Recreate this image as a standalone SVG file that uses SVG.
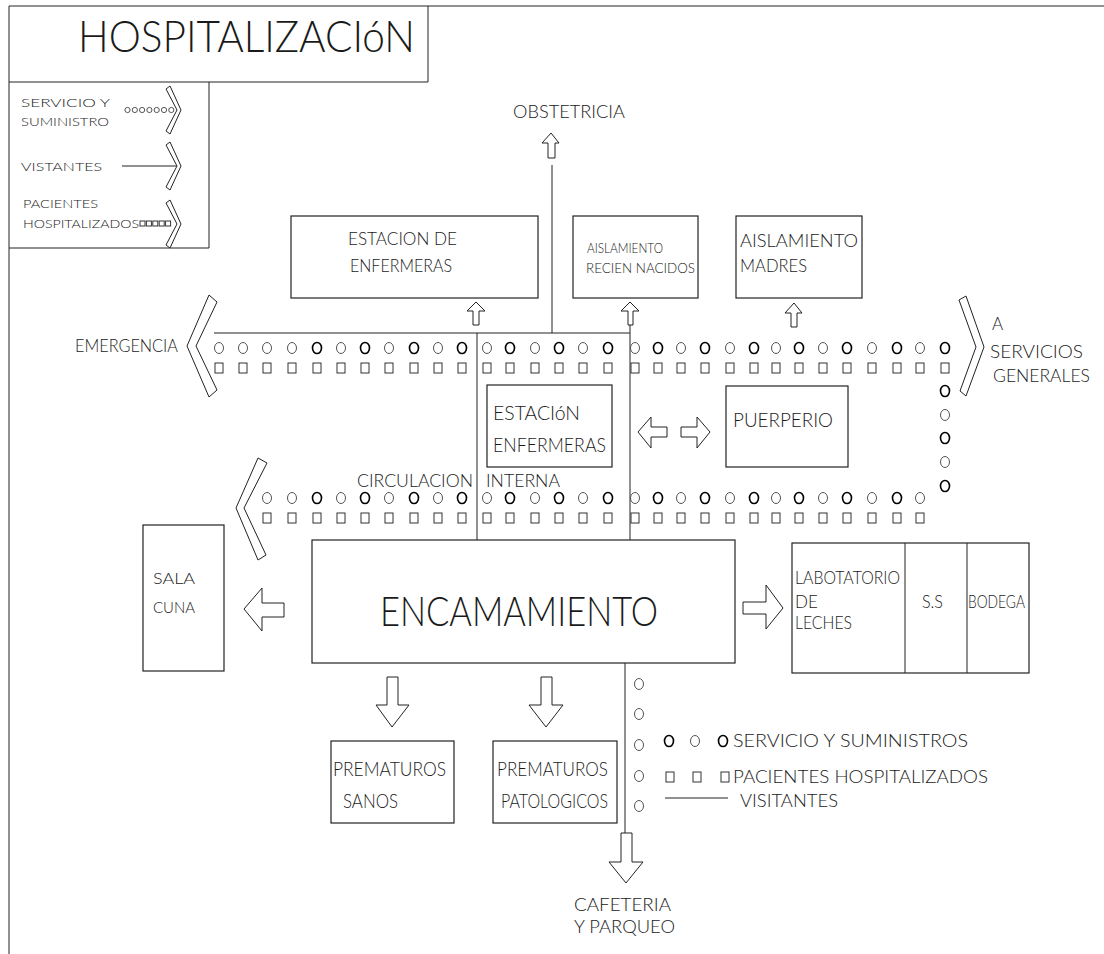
<svg xmlns="http://www.w3.org/2000/svg" xmlns:xlink="http://www.w3.org/1999/xlink" width="1104" height="954" viewBox="0 0 1104 954">
  <style>
    .ln{stroke:#222;stroke-width:1;fill:none}
    .bx{stroke:#222;stroke-width:1.2;fill:none}
    .ar{stroke:#222;stroke-width:1;fill:#fff}
    .t{font-family:"Lato","Liberation Sans",Arial,sans-serif;font-weight:300;fill:#1a1a1a}
    .c1{stroke:#555;stroke-width:1;fill:none}
    .c2{stroke:#000;stroke-width:1.6;fill:none}
    .sq{stroke:#333;stroke-width:1;fill:none}
  </style>
  <defs>
    <ellipse id="c" cx="0" cy="0" rx="4.5" ry="5.5"/>
    <rect id="s" x="-4" y="-5" width="8" height="10"/>
  </defs>
  <rect width="1104" height="954" fill="#fff"/>

  <!-- sheet frame, title block and legend block -->
  <g id="frame" class="ln">
    <line x1="9" y1="6" x2="1104" y2="6"/>
    <line x1="9" y1="6" x2="9" y2="954"/>
    <line x1="428" y1="6" x2="428" y2="82"/>
    <line x1="9" y1="82" x2="428" y2="82"/>
    <line x1="209" y1="82" x2="209" y2="248"/>
    <line x1="9" y1="248" x2="209" y2="248"/>
  </g>
  <g id="title">
    <text class="t" x="78" y="52" font-size="43" textLength="337" lengthAdjust="spacingAndGlyphs">HOSPITALIZACIóN</text>
  </g>

  <!-- legend: service, visitors, patients -->
  <g id="legend-top">
    <text class="t" x="21" y="107" font-size="12.5" textLength="89" lengthAdjust="spacingAndGlyphs">SERVICIO Y</text>
    <text class="t" x="21" y="126" font-size="12.5" textLength="88" lengthAdjust="spacingAndGlyphs">SUMINISTRO</text>
    <g class="c1">
      <circle cx="127.5" cy="110" r="2.6"/><circle cx="134.8" cy="110" r="2.6"/><circle cx="142.1" cy="110" r="2.6"/>
      <circle cx="149.4" cy="110" r="2.6"/><circle cx="156.7" cy="110" r="2.6"/><circle cx="164" cy="110" r="2.6"/>
      <circle cx="171.3" cy="110" r="2.6"/>
    </g>
    <polygon class="ar" points="166,89 170,86 181,110 170,134 166,131 177,110"/>
    <text class="t" x="21" y="171" font-size="12.5" textLength="81" lengthAdjust="spacingAndGlyphs">VISTANTES</text>
    <line class="ln" x1="122" y1="166" x2="178" y2="166"/>
    <polygon class="ar" points="166,145 170,142 181,166 170,190 166,187 177,166"/>
    <text class="t" x="23" y="208" font-size="12.5" textLength="75" lengthAdjust="spacingAndGlyphs">PACIENTES</text>
    <text class="t" x="23" y="228" font-size="12.5" textLength="116" lengthAdjust="spacingAndGlyphs">HOSPITALIZADOS</text>
    <g class="sq">
      <rect x="140" y="221" width="5" height="5"/><rect x="146.4" y="221" width="5" height="5"/><rect x="152.8" y="221" width="5" height="5"/>
      <rect x="159.2" y="221" width="5" height="5"/><rect x="165.6" y="221" width="5" height="5"/>
    </g>
    <polygon class="ar" points="166,203 170,200 181,224 170,248 166,245 177,224"/>
  </g>

  <!-- connectors: visitor lines and flow chevrons -->
  <g id="connectors">
    <line class="ln" x1="552" y1="165" x2="552" y2="333"/>
    <line class="ln" x1="214" y1="333" x2="630" y2="333"/>
    <line class="ln" x1="477" y1="333" x2="477" y2="540"/>
    <line class="ln" x1="630" y1="325" x2="630" y2="540"/>
    <line class="ln" x1="625" y1="663" x2="625" y2="833"/>
    <polygon class="ar" points="217,302 209,295 187,346 209,397 217,390 196,346"/>
    <polygon class="ar" points="959,300 966,296 984,347 966,396 960,391 976,347"/>
    <polygon class="ar" points="267,463 258,458 236,508 258,560 266,555 244,508"/>

    <!-- block arrows -->
    <polygon class="ar" points="551,133 559,143 555,143 555,158 548,158 548,143 542,143"/>
    <polygon class="ar" points="476,302 485,311 479,311 479,325 473,325 473,311 467,311"/>
    <polygon class="ar" points="630,302 639,311 633,311 633,325 628,325 628,311 621,311"/>
    <polygon class="ar" points="794,303 802,313 797,313 797,327 791,327 791,313 785,313"/>
    <polygon class="ar" points="638,432 651,417 651,427 667,427 667,437 651,437 651,448"/>
    <polygon class="ar" points="710,432 697,417 697,427 681,427 681,437 697,437 697,448"/>
    <polygon class="ar" points="244,609 262,588 262,603 284,603 284,617 262,617 262,631"/>
    <polygon class="ar" points="783,608 766,585 766,602 743,602 743,614 766,614 766,629"/>
    <polygon class="ar" points="392,727 409,705 398,705 398,677 387,677 387,705 376,705"/>
    <polygon class="ar" points="546,727 563,705 552,705 552,677 541,677 541,705 529,705"/>
    <polygon class="ar" points="626,883 643,862 632,862 632,833 621,833 621,862 609,862"/>
  </g>

  <!-- service (circles) and patient (squares) routes -->
  <g id="routes">
    <g class="c1">
      <use href="#c" x="219" y="348"/><use href="#c" x="243" y="348"/><use href="#c" x="267" y="348"/><use href="#c" x="292" y="348"/>
      <use href="#c" x="341" y="348"/><use href="#c" x="389" y="348"/><use href="#c" x="438" y="348"/><use href="#c" x="487" y="348"/>
      <use href="#c" x="535" y="348"/><use href="#c" x="583" y="348"/><use href="#c" x="635" y="348"/><use href="#c" x="681" y="348"/>
      <use href="#c" x="730" y="348"/><use href="#c" x="776" y="348"/><use href="#c" x="823" y="348"/><use href="#c" x="872" y="348"/>
      <use href="#c" x="920" y="348"/>
      <use href="#c" x="267" y="498"/><use href="#c" x="292" y="498"/>
      <use href="#c" x="341" y="498"/><use href="#c" x="389" y="498"/><use href="#c" x="438" y="498"/><use href="#c" x="487" y="498"/>
      <use href="#c" x="535" y="498"/><use href="#c" x="583" y="498"/><use href="#c" x="635" y="498"/><use href="#c" x="681" y="498"/>
      <use href="#c" x="730" y="498"/><use href="#c" x="776" y="498"/><use href="#c" x="823" y="498"/><use href="#c" x="872" y="498"/>
      <use href="#c" x="920" y="498"/>
      <use href="#c" x="945" y="415"/><use href="#c" x="945" y="462"/>
      <use href="#c" x="639" y="684"/><use href="#c" x="639" y="714"/><use href="#c" x="639" y="745"/><use href="#c" x="639" y="776"/><use href="#c" x="639" y="806"/>
    </g>
    <g class="c2">
      <use href="#c" x="317" y="348"/><use href="#c" x="365" y="348"/><use href="#c" x="414" y="348"/><use href="#c" x="462" y="348"/>
      <use href="#c" x="510" y="348"/><use href="#c" x="559" y="348"/><use href="#c" x="608" y="348"/><use href="#c" x="658" y="348"/>
      <use href="#c" x="705" y="348"/><use href="#c" x="754" y="348"/><use href="#c" x="799" y="348"/><use href="#c" x="847" y="348"/>
      <use href="#c" x="897" y="348"/><use href="#c" x="945" y="348"/>
      <use href="#c" x="317" y="498"/><use href="#c" x="365" y="498"/><use href="#c" x="414" y="498"/><use href="#c" x="462" y="498"/>
      <use href="#c" x="510" y="498"/><use href="#c" x="559" y="498"/><use href="#c" x="608" y="498"/><use href="#c" x="658" y="498"/>
      <use href="#c" x="705" y="498"/><use href="#c" x="754" y="498"/><use href="#c" x="799" y="498"/><use href="#c" x="847" y="498"/>
      <use href="#c" x="897" y="498"/>
      <use href="#c" x="945" y="391"/><use href="#c" x="945" y="438"/><use href="#c" x="945" y="486"/>
    </g>
    <g class="sq">
      <use href="#s" x="219" y="368"/><use href="#s" x="243" y="368"/><use href="#s" x="267" y="368"/><use href="#s" x="292" y="368"/>
      <use href="#s" x="317" y="368"/><use href="#s" x="341" y="368"/><use href="#s" x="365" y="368"/><use href="#s" x="389" y="368"/>
      <use href="#s" x="414" y="368"/><use href="#s" x="438" y="368"/><use href="#s" x="462" y="368"/><use href="#s" x="487" y="368"/>
      <use href="#s" x="510" y="368"/><use href="#s" x="535" y="368"/><use href="#s" x="559" y="368"/><use href="#s" x="583" y="368"/>
      <use href="#s" x="608" y="368"/><use href="#s" x="635" y="368"/><use href="#s" x="658" y="368"/><use href="#s" x="681" y="368"/>
      <use href="#s" x="705" y="368"/><use href="#s" x="730" y="368"/><use href="#s" x="754" y="368"/><use href="#s" x="776" y="368"/>
      <use href="#s" x="799" y="368"/><use href="#s" x="823" y="368"/><use href="#s" x="847" y="368"/><use href="#s" x="872" y="368"/>
      <use href="#s" x="897" y="368"/><use href="#s" x="920" y="368"/><use href="#s" x="945" y="368"/>
      <use href="#s" x="267" y="518"/><use href="#s" x="292" y="518"/>
      <use href="#s" x="317" y="518"/><use href="#s" x="341" y="518"/><use href="#s" x="365" y="518"/><use href="#s" x="389" y="518"/>
      <use href="#s" x="414" y="518"/><use href="#s" x="438" y="518"/><use href="#s" x="462" y="518"/><use href="#s" x="487" y="518"/>
      <use href="#s" x="510" y="518"/><use href="#s" x="535" y="518"/><use href="#s" x="559" y="518"/><use href="#s" x="583" y="518"/>
      <use href="#s" x="608" y="518"/><use href="#s" x="635" y="518"/><use href="#s" x="658" y="518"/><use href="#s" x="681" y="518"/>
      <use href="#s" x="705" y="518"/><use href="#s" x="730" y="518"/><use href="#s" x="754" y="518"/><use href="#s" x="776" y="518"/>
      <use href="#s" x="799" y="518"/><use href="#s" x="823" y="518"/><use href="#s" x="847" y="518"/><use href="#s" x="872" y="518"/>
      <use href="#s" x="897" y="518"/><use href="#s" x="920" y="518"/>
    </g>
  </g>

  <!-- destination labels -->
  <g id="obstetricia"><text class="t" x="513" y="118" font-size="18" textLength="112" lengthAdjust="spacingAndGlyphs">OBSTETRICIA</text></g>
  <g id="emergencia"><text class="t" x="75" y="352" font-size="17" textLength="103" lengthAdjust="spacingAndGlyphs">EMERGENCIA</text></g>
  <g id="servicios-generales">
    <text class="t" x="992" y="330" font-size="17">A</text>
    <text class="t" x="990" y="358" font-size="17" textLength="93" lengthAdjust="spacingAndGlyphs">SERVICIOS</text>
    <text class="t" x="993" y="382" font-size="17" textLength="97" lengthAdjust="spacingAndGlyphs">GENERALES</text>
  </g>
  <g id="circulacion">
    <text class="t" x="357" y="487" font-size="18" textLength="116" lengthAdjust="spacingAndGlyphs">CIRCULACION</text>
    <text class="t" x="486" y="487" font-size="18" textLength="74" lengthAdjust="spacingAndGlyphs">INTERNA</text>
  </g>
  <g id="cafeteria">
    <text class="t" x="574" y="911" font-size="18" textLength="97" lengthAdjust="spacingAndGlyphs">CAFETERIA</text>
    <text class="t" x="574" y="933" font-size="18" textLength="101" lengthAdjust="spacingAndGlyphs">Y PARQUEO</text>
  </g>

  <!-- rooms -->
  <g id="estacion-de-enfermeras">
    <rect class="bx" x="291" y="216" width="247" height="82"/>
    <text class="t" x="348" y="245" font-size="17" textLength="109" lengthAdjust="spacingAndGlyphs">ESTACION DE</text>
    <text class="t" x="350" y="272" font-size="17" textLength="102" lengthAdjust="spacingAndGlyphs">ENFERMERAS</text>
  </g>
  <g id="aislamiento-recien-nacidos">
    <rect class="bx" x="573" y="216" width="125" height="82"/>
    <text class="t" x="587" y="253" font-size="13" textLength="76" lengthAdjust="spacingAndGlyphs">AISLAMIENTO</text>
    <text class="t" x="586" y="273" font-size="13" textLength="109" lengthAdjust="spacingAndGlyphs">RECIEN NACIDOS</text>
  </g>
  <g id="aislamiento-madres">
    <rect class="bx" x="736" y="216" width="126" height="82"/>
    <text class="t" x="740" y="247" font-size="17" textLength="118" lengthAdjust="spacingAndGlyphs">AISLAMIENTO</text>
    <text class="t" x="740" y="272" font-size="17" textLength="67" lengthAdjust="spacingAndGlyphs">MADRES</text>
  </g>
  <g id="estacion-enfermeras">
    <rect class="bx" x="487" y="385" width="125" height="82"/>
    <text class="t" x="493" y="420" font-size="20" textLength="87" lengthAdjust="spacingAndGlyphs">ESTACIóN</text>
    <text class="t" x="493" y="452" font-size="20" textLength="113" lengthAdjust="spacingAndGlyphs">ENFERMERAS</text>
  </g>
  <g id="puerperio">
    <rect class="bx" x="726" y="386" width="122" height="81"/>
    <text class="t" x="733" y="427" font-size="19" textLength="100" lengthAdjust="spacingAndGlyphs">PUERPERIO</text>
  </g>
  <g id="sala-cuna">
    <rect class="bx" x="143" y="525" width="81" height="146"/>
    <text class="t" x="153" y="584" font-size="16" textLength="42" lengthAdjust="spacingAndGlyphs">SALA</text>
    <text class="t" x="153" y="613" font-size="16" textLength="42" lengthAdjust="spacingAndGlyphs">CUNA</text>
  </g>
  <g id="encamamiento">
    <rect class="bx" x="312" y="540" width="423" height="123"/>
    <text class="t" x="380" y="626" font-size="42" textLength="278" lengthAdjust="spacingAndGlyphs">ENCAMAMIENTO</text>
  </g>
  <g id="laboratorio-ss-bodega">
    <rect class="bx" x="792" y="543" width="237" height="130"/>
    <line class="ln" x1="905" y1="543" x2="905" y2="673"/>
    <line class="ln" x1="967" y1="543" x2="967" y2="673"/>
    <text class="t" x="795" y="584" font-size="17" textLength="105" lengthAdjust="spacingAndGlyphs">LABOTATORIO</text>
    <text class="t" x="795" y="608" font-size="17">DE</text>
    <text class="t" x="795" y="629" font-size="17" textLength="57" lengthAdjust="spacingAndGlyphs">LECHES</text>
    <text class="t" x="922" y="608" font-size="17" textLength="21" lengthAdjust="spacingAndGlyphs">S.S</text>
    <text class="t" x="968" y="608" font-size="17" textLength="57" lengthAdjust="spacingAndGlyphs">BODEGA</text>
  </g>
  <g id="prematuros-sanos">
    <rect class="bx" x="331" y="741" width="123" height="82"/>
    <text class="t" x="333" y="776" font-size="19" textLength="113" lengthAdjust="spacingAndGlyphs">PREMATUROS</text>
    <text class="t" x="343" y="808" font-size="19" textLength="55" lengthAdjust="spacingAndGlyphs">SANOS</text>
  </g>
  <g id="prematuros-patologicos">
    <rect class="bx" x="493" y="741" width="124" height="82"/>
    <text class="t" x="497" y="776" font-size="19" textLength="111" lengthAdjust="spacingAndGlyphs">PREMATUROS</text>
    <text class="t" x="501" y="808" font-size="19" textLength="107" lengthAdjust="spacingAndGlyphs">PATOLOGICOS</text>
  </g>

  <!-- key at lower right -->
  <g id="legend-bottom">
    <use href="#c" class="c2" x="669" y="741"/><use href="#c" class="c1" x="695" y="741"/><use href="#c" class="c2" x="723" y="741"/>
    <text class="t" x="733" y="747" font-size="17" textLength="235" lengthAdjust="spacingAndGlyphs">SERVICIO Y SUMINISTROS</text>
    <use href="#s" class="sq" x="670" y="777"/><use href="#s" class="sq" x="697" y="777"/><use href="#s" class="sq" x="725" y="777"/>
    <text class="t" x="733" y="783" font-size="17" textLength="255" lengthAdjust="spacingAndGlyphs">PACIENTES HOSPITALIZADOS</text>
    <line class="ln" x1="665" y1="798" x2="728" y2="798"/>
    <text class="t" x="740" y="807" font-size="17" textLength="98" lengthAdjust="spacingAndGlyphs">VISITANTES</text>
  </g>
</svg>
